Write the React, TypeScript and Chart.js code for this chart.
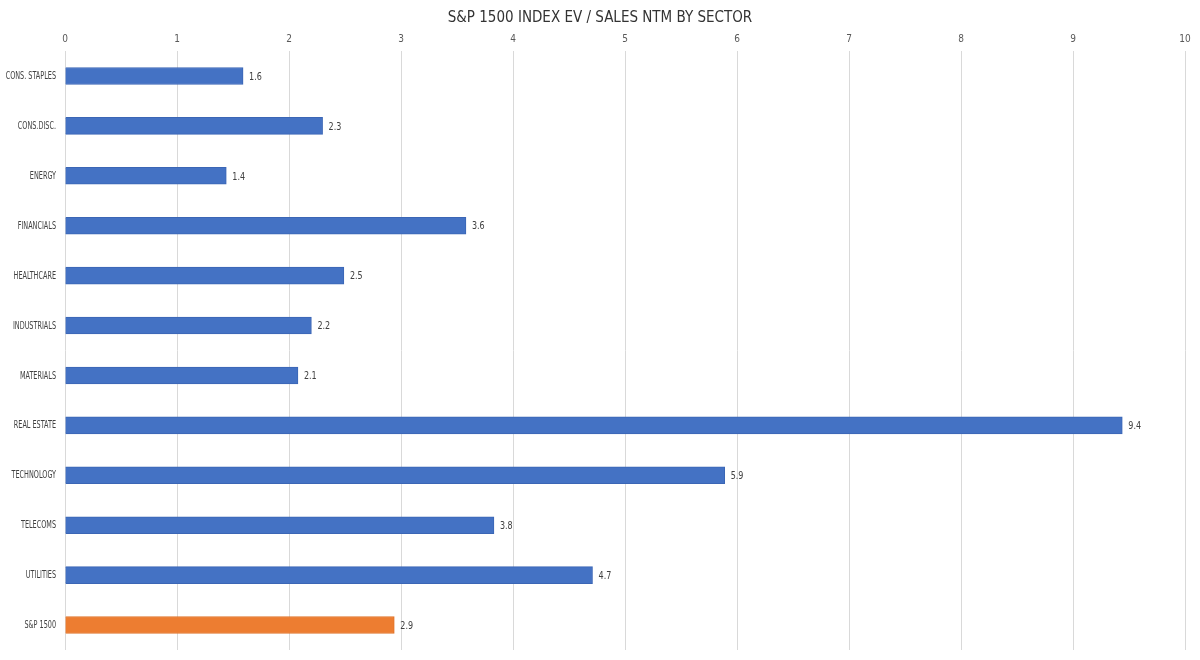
import React, { useEffect, useRef } from "react";
import { Chart, registerables } from "chart.js";

Chart.register(...registerables);

const categories = [
  "CONS. STAPLES",
  "CONS.DISC.",
  "ENERGY",
  "FINANCIALS",
  "HEALTHCARE",
  "INDUSTRIALS",
  "MATERIALS",
  "REAL ESTATE",
  "TECHNOLOGY",
  "TELECOMS",
  "UTILITIES",
  "S&P 1500",
];
const values = [1.59, 2.3, 1.44, 3.58, 2.49, 2.2, 2.08, 9.44, 5.89, 3.83, 4.71, 2.94];
const barColors = [
  "#4472C4", "#4472C4", "#4472C4", "#4472C4", "#4472C4", "#4472C4",
  "#4472C4", "#4472C4", "#4472C4", "#4472C4", "#4472C4", "#ED7D31",
];
const xTicks = [0, 1, 2, 3, 4, 5, 6, 7, 8, 9, 10];
const titleText = "S&P 1500 INDEX EV / SALES NTM BY SECTOR";

const FONT = "'DejaVu Sans Condensed', 'Liberation Sans', sans-serif";

const drawSqueezed = (ctx: any, text: string, x: number, y: number, align: string, sx: number) => {
  ctx.save();
  ctx.translate(x, y);
  ctx.scale(sx, 1);
  ctx.textAlign = align;
  ctx.fillText(text, 0, 0);
  ctx.restore();
};

const customLabels = {
  id: "customLabels",
  afterDatasetsDraw(chart: any) {
    const ctx = chart.ctx;
    const meta = chart.getDatasetMeta(0);
    ctx.save();
    ctx.textBaseline = "middle";
    // value labels
    ctx.font = `10.5px ${FONT}`;
    ctx.fillStyle = "#404040";
    meta.data.forEach((bar: any, i: number) => {
      drawSqueezed(ctx, values[i].toFixed(1), bar.x + 6, bar.y + 1, "left", 0.85);
    });
    // category labels
    ctx.font = `10px ${FONT}`;
    ctx.fillStyle = "#404040";
    const yScale = chart.scales.y;
    categories.forEach((c, i) => {
      const y = yScale.getPixelForValue(i);
      drawSqueezed(ctx, c, 56, y + 0.5, "right", 0.72);
    });
    ctx.restore();
  },
};

export default function App() {
  const ref = useRef<HTMLCanvasElement>(null);
  useEffect(() => {
    if (!ref.current) return;
    const chart = new Chart(ref.current, {
      type: "bar",
      data: {
        labels: categories,
        datasets: [
          {
            data: values,
            backgroundColor: barColors,
            borderColor: barColors.map((c) => (c === "#ED7D31" ? "#E0732A" : "#3B66B5")),
            borderWidth: 1,
            barThickness: 17,
          },
        ],
      },
      options: {
        indexAxis: "y",
        animation: false,
        responsive: false,
        layout: { padding: { left: 15, right: 15, top: 0, bottom: 10 } },
        plugins: {
          legend: { display: false },
          tooltip: { enabled: false },
          title: {
            display: true,
            text: titleText,
            color: "#333333",
            font: { family: FONT, size: 15, weight: "normal" },
            padding: { top: 9, bottom: 0 },
          },
        },
        scales: {
          x: {
            position: "top",
            min: 0,
            max: 10,
            afterBuildTicks: (scale: any) => {
              scale.ticks = xTicks.map((v) => ({ value: v }));
            },
            grid: { color: "#D9D9D9", drawTicks: false, lineWidth: 1 },
            border: { display: false },
            ticks: {
              color: "#595959",
              font: { family: FONT, size: 10 },
              padding: 6,
            },
          },
          y: {
            grid: { display: false, drawTicks: false },
            border: { display: false },
            ticks: { display: false },
            afterFit: (scale: any) => {
              scale.width = 50;
            },
          },
        },
      },
      plugins: [customLabels],
    });
    return () => chart.destroy();
  }, []);
  return (
    <div style={{ position: "fixed", left: 0, top: 0, width: 1200, height: 660, background: "#fff" }}>
      <canvas ref={ref} width={1200} height={660} />
    </div>
  );
}
